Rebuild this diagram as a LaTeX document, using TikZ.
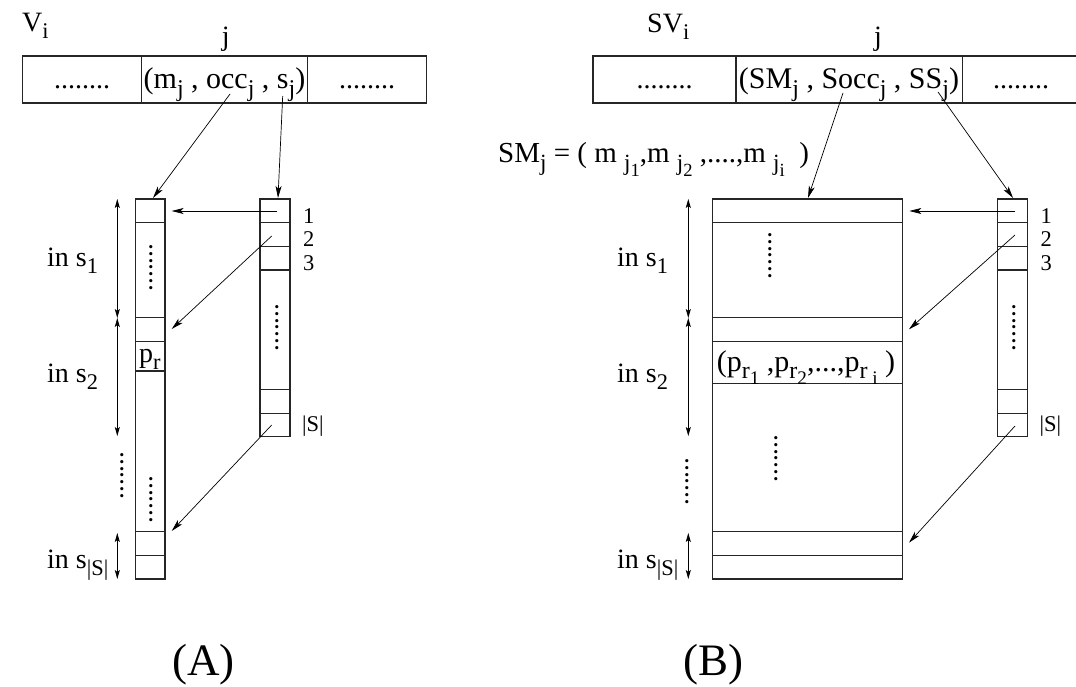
\documentclass[tikz,border=0pt]{standalone}
\usepackage{fontspec}
\setmainfont{Liberation Serif}
\usetikzlibrary{arrows.meta}
\newcommand{\sbx}[1]{\raisebox{-0.25em}{\scalebox{0.8}{#1}}}
\tikzset{
 box/.style={line width=1.1pt, draw=black!85},
 arr/.style={-{Stealth[length=12pt,width=6pt,inset=3pt]}, line width=0.7pt},
 darr/.style={{Stealth[length=9pt,width=5pt,inset=2pt]}-{Stealth[length=9pt,width=5pt,inset=2pt]}, line width=0.7pt},
 txt/.style={inner sep=0pt, font=\fontsize{28}{30}\selectfont},
 btxt/.style={inner sep=0pt, font=\fontsize{30}{32}\selectfont},
 small/.style={inner sep=0pt, font=\fontsize{22.5}{24}\selectfont},
 big/.style={inner sep=0pt, font=\fontsize{45}{50}\selectfont},
 vdot/.style={inner sep=0pt, rotate=90, anchor=base, font=\fontsize{27}{28}\selectfont},
}
\begin{document}
\begin{tikzpicture}[x=1pt,y=-1pt]
\useasboundingbox (0,0) rectangle (1076,687);

% ================= (A) =================
\node[txt, anchor=base west] (VA) at (22,32) {V\sbx{i}};
\node[txt, anchor=base] (jA) at (225.7,46) {j};
\draw[box] (22.7,56) rectangle (426.7,103);
\draw[box] (141.7,56) -- (141.7,103);
\draw[box] (307.3,56) -- (307.3,103);
\node[txt, anchor=base] (dA1) at (82.2,89) {........};
\node[btxt, anchor=base] (eA) at (224.5,89) {(m\sbx{j} , occ\sbx{j} , s\sbx{j})};
\node[txt, anchor=base] (dA2) at (367,89) {........};

% long array A
\draw[box] (135.7,199) rectangle (165,579);
\foreach \yy in {222.7,317.7,341.7,371,531.7,555.7}
  \draw[box] (135.7,\yy) -- (165,\yy);
\node[vdot] (vA1) at (152.4,267.5) {.......};
\node[vdot] (vA2) at (152.4,499.5) {.......};
\node[txt, anchor=base west] (pA) at (139,362) {p\sbx{r}};

% short array A
\draw[box] (260,199) rectangle (290,436.7);
\foreach \yy in {222.7,246.7,270,389.3,413.3}
  \draw[box] (260,\yy) -- (290,\yy);
\node[vdot] (vA3) at (278.1,327.5) {.......};
\node[small, anchor=base west] (nA1) at (303,223) {1};
\node[small, anchor=base west] (nA2) at (303,246.5) {2};
\node[small, anchor=base west] (nA3) at (303,270) {3};
\node[small, anchor=base west] (nAS) at (302,431) {|S|};

% labels A
\node[txt, anchor=base west] (iA1) at (47,266) {in s\sbx{1}};
\node[txt, anchor=base west] (iA2) at (47,382) {in s\sbx{2}};
\node[txt, anchor=base west] (iA3) at (47,568) {in s\sbx{|S|}};
\coordinate (dA0) at (117.3,199);
\coordinate (dAa) at (117.3,318);
\coordinate (dAb) at (117.3,436);
\coordinate (dAc) at (117.3,533);
\coordinate (dAd) at (117.3,579);
\draw[darr] (dA0) -- (dAa);
\draw[darr] (dAa) -- (dAb);
\draw[darr] (dAc) -- (dAd);
\node[vdot] (vA4) at (123.1,475.5) {.......};

% arrows A
\coordinate (a1s) at (230,94);   \coordinate (a1e) at (153,198);
\coordinate (a2s) at (282.7,96); \coordinate (a2e) at (278,198);
\coordinate (a3s) at (277,211);  \coordinate (a3e) at (171.7,211);
\coordinate (a4s) at (271.7,236);\coordinate (a4e) at (171.7,329);
\coordinate (a5s) at (271.7,425);\coordinate (a5e) at (171.7,531);
\draw[arr] (a1s) -- (a1e);
\draw[arr] (a2s) -- (a2e);
\draw[arr] (a3s) -- (a3e);
\draw[arr] (a4s) -- (a4e);
\draw[arr] (a5s) -- (a5e);

\node[big, anchor=base] (capA) at (203.5,675) {(A)};

% ================= (B) =================
\node[txt, anchor=base west] (VB) at (647,33) {SV\sbx{i}};
\node[txt, anchor=base] (jB) at (878,46) {j};
\draw[box] (1076,56) -- (593,56) -- (593,103) -- (1076,103);
\draw[box] (736,56) -- (736,103);
\draw[box] (962.3,56) -- (962.3,103);
\node[txt, anchor=base] (dB1) at (664.5,89) {........};
\node[btxt, anchor=base] (eB) at (849,89) {(SM\sbx{j} , Socc\sbx{j} , SS\sbx{j})};
\node[txt, anchor=base] (dB2) at (1021,89) {........};

\node[inner sep=0pt, font=\fontsize{29}{31}\selectfont, anchor=base west] (smB) at (498,163)
  {SM\sbx{j} = ( m \sbx{j\sbx{1}},m \sbx{j\sbx{2}} ,....,m \sbx{j\sbx{i}}~~)};

% big array B
\draw[box] (712.3,199) rectangle (902.7,579);
\foreach \yy in {222.7,317.7,341.7,383.3,531.7,555.7}
  \draw[box] (712.3,\yy) -- (902.7,\yy);
\node[vdot] (vB1) at (771.4,255.5) {.......};
\node[vdot] (vB2) at (777.4,458.5) {.......};
\node[btxt, anchor=base] (pB) at (806,371)
  {(p\sbx{r\sbx{1}} ,p\sbx{r\sbx{2}},...,p\sbx{r\sbx{ i}} )};

% short array B
\draw[box] (997.7,199) rectangle (1027.7,436.7);
\foreach \yy in {222.7,246.7,270,389.3,413.3}
  \draw[box] (997.7,\yy) -- (1027.7,\yy);
\node[vdot] (vB3) at (1015.4,327.5) {.......};
\node[small, anchor=base west] (nB1) at (1040.5,223) {1};
\node[small, anchor=base west] (nB2) at (1040.5,246.5) {2};
\node[small, anchor=base west] (nB3) at (1040.5,270) {3};
\node[small, anchor=base west] (nBS) at (1039.5,431) {|S|};

% labels B
\node[txt, anchor=base west] (iB1) at (617,266) {in s\sbx{1}};
\node[txt, anchor=base west] (iB2) at (617,382) {in s\sbx{2}};
\node[txt, anchor=base west] (iB3) at (617,568) {in s\sbx{|S|}};
\coordinate (dB0) at (688.3,199);
\coordinate (dBa) at (688.3,318);
\coordinate (dBb) at (688.3,436);
\coordinate (dBc) at (688.3,533);
\coordinate (dBd) at (688.3,579);
\draw[darr] (dB0) -- (dBa);
\draw[darr] (dBa) -- (dBb);
\draw[darr] (dBc) -- (dBd);
\node[vdot] (vB4) at (688.1,481.5) {.......};

% arrows B
\coordinate (b1s) at (843,93);   \coordinate (b1e) at (808,198);
\coordinate (b2s) at (938,92);   \coordinate (b2e) at (1013,198);
\coordinate (b3s) at (1015,211); \coordinate (b3e) at (909.3,211);
\coordinate (b4s) at (1015,235); \coordinate (b4e) at (909,329.3);
\coordinate (b5s) at (1015,426); \coordinate (b5e) at (909,542.7);
\draw[arr] (b1s) -- (b1e);
\draw[arr] (b2s) -- (b2e);
\draw[arr] (b3s) -- (b3e);
\draw[arr] (b4s) -- (b4e);
\draw[arr] (b5s) -- (b5e);

\node[big, anchor=base] (capB) at (713,675) {(B)};
\end{tikzpicture}
\end{document}
